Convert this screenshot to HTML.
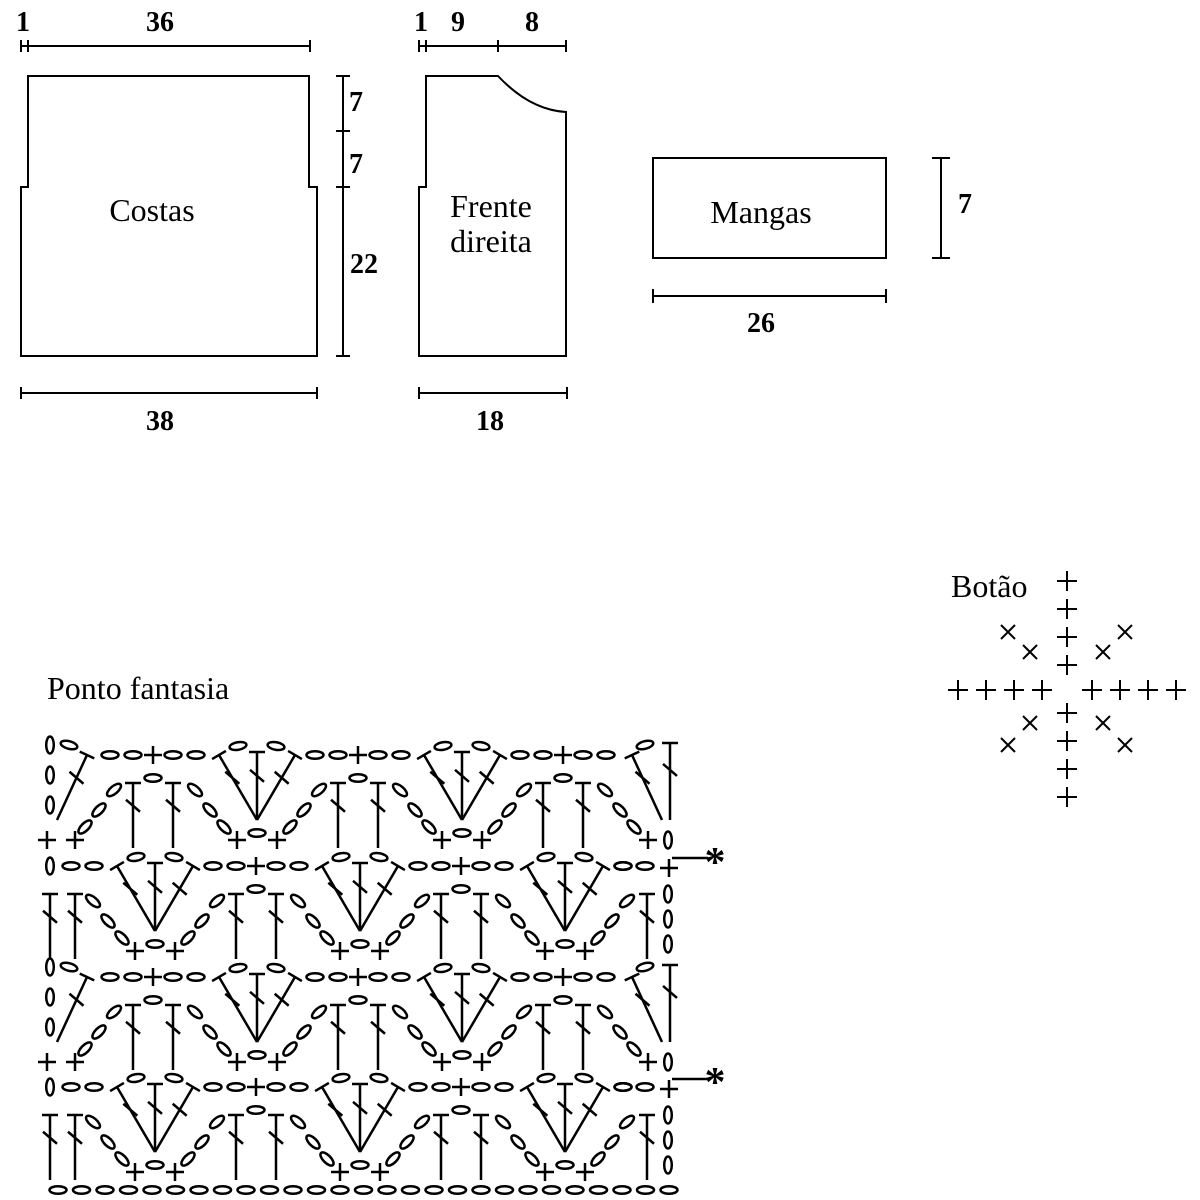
<!DOCTYPE html>
<html><head><meta charset="utf-8"><style>
html,body{margin:0;padding:0;background:#fff;}
svg{display:block;}
text{font-family:"Liberation Serif",serif;fill:#000;}
</style></head><body>
<svg id="s" width="1200" height="1200" viewBox="0 0 1200 1200" xmlns="http://www.w3.org/2000/svg">
<g fill="none" stroke="#000" stroke-width="2">
<polygon points="28,76 309,76 309,187 317,187 317,356 21,356 21,187 28,187"/>
<path d="M21,46H310M21,40V52M28,40V52M310,40V52"/>
<path d="M343,76V356M336,76H350M336,131H350M336,187H350M336,356H350"/>
<path d="M21,393H317M21,387V399M317,387V399"/>
<path d="M426,76H498Q530,110 566,112V356H419V187H426Z"/>
<path d="M419,46H566M419,40V52M426,40V52M498,40V52M566,40V52"/>
<path d="M419,393H567M419,387V399M567,387V399"/>
<rect x="653" y="158" width="233" height="100"/>
<path d="M941,158V258M932,158H950M932,258H950"/>
<path d="M653,296H886M653,289V303M886,289V303"/>
</g>
<g font-size="32" text-anchor="middle">
<text x="152" y="221">Costas</text>
<text x="491" y="217">Frente</text>
<text x="491" y="252">direita</text>
<text x="761" y="223">Mangas</text>
</g>
<g font-size="28" font-weight="bold" text-anchor="middle">
<text x="23" y="31">1</text><text x="160" y="31">36</text>
<text x="356" y="111">7</text><text x="356" y="173">7</text><text x="364" y="273">22</text>
<text x="160" y="430">38</text>
<text x="421" y="31">1</text><text x="458" y="31">9</text><text x="532" y="31">8</text>
<text x="490" y="430">18</text>
<text x="965" y="213">7</text><text x="761" y="332">26</text>
</g>
<text x="47" y="699" font-size="32">Ponto fantasia</text>
<text x="951" y="597" font-size="32">Botão</text>
<g id="chart" fill="none" stroke="#000" stroke-width="2.5"></g>
<g id="btn" fill="none" stroke="#000" stroke-width="2"></g>
<text x="715" y="876" font-size="42" font-weight="bold" text-anchor="middle">*</text>
<text x="715" y="1096" font-size="42" font-weight="bold" text-anchor="middle">*</text>
</svg>
<script>
var g=document.getElementById('chart'),h='';
function ov(x,y,a){h+='<ellipse cx="'+x+'" cy="'+y+'" rx="8.5" ry="3.8" transform="rotate('+(a||0)+' '+x+' '+y+')"/>';}
function sc(x,y){h+='<path d="M'+(x-9)+','+y+'H'+(x+9)+'M'+x+','+(y-9)+'V'+(y+9)+'"/>';}
function dc(x1,y1,x2,y2){var dx=x2-x1,dy=y2-y1,l=Math.sqrt(dx*dx+dy*dy),ux=dx/l,uy=dy/l,px=-uy,py=ux;
h+='<path d="M'+x1+','+y1+'L'+x2+','+y2+'M'+(x1-px*8)+','+(y1-py*8)+'L'+(x1+px*8)+','+(y1+py*8)+'"/>';
var mx=x1+dx*0.35,my=y1+dy*0.35;h+='<path d="M'+(mx-7)+','+(my-6)+'L'+(mx+7)+','+(my+6)+'"/>';}
function band(y0,c0,L,R){
 for(var k=-1;k<5;k++){var c=c0+205*k,a=c-104;
  [[a-43,0],[a-20,0],[a+20,0],[a+43,0]].forEach(function(p){if(p[0]>L+8&&p[0]<R-8)ov(p[0],y0);});
  if(a>L+5&&a<R)sc(a,y0);
  if(c>L+30&&c<R-30){dc(c-38,y0,c,y0+65);dc(c,y0-3,c,y0+65);dc(c+38,y0,c,y0+65);ov(c-19,y0-9,-10);ov(c+19,y0-9,10);}
  if(a>L+20&&a<R-20){dc(a-20,y0+28,a-20,y0+93);dc(a+20,y0+28,a+20,y0+93);ov(a,y0+23);}
  [[a+42,35,40],[a+57,55,45],[a+71,72,45],[c+33,72,-45],[c+47,55,-45],[c+62,35,-40]].forEach(function(p){if(p[0]>L+5&&p[0]<R-5)ov(p[0],y0+p[1],p[2]);});
  if(c>L+20&&c<R-20){sc(c-20,y0+85);ov(c,y0+78);sc(c+20,y0+85);}
 }
}
function bandA(y0){
 band(y0,257,40,640);
 ov(50,y0-10,90);ov(50,y0+20,90);ov(50,y0+50,90);ov(69,y0-10,15);
 dc(87,y0,57,y0+65);sc(47,y0+85);sc(75,y0+85);
 ov(645,y0-10,-15);dc(632,y0,662,y0+65);dc(670,y0-12,670,y0+65);sc(648,y0+85);ov(668,y0+85,90);
}
function bandB(y0){
 band(y0,155,48,640);
 ov(50,y0,90);
 dc(50,y0+28,50,y0+93);dc(75,y0+28,75,y0+93);
 ov(623,y0);ov(645,y0);sc(669,y0+2);h+='<path d="M672,'+(y0-8)+'H708"/>';
 dc(647,y0+28,647,y0+93);ov(668,y0+28,90);ov(668,y0+53,90);ov(668,y0+78,90);
}
bandA(755);bandB(866);bandA(977);bandB(1087);
for(var x=58;x<675;x+=23.5)ov(x,1190);
g.innerHTML=h;
var b='';function pl(x,y){b+='<path d="M'+(x-10)+','+y+'H'+(x+10)+'M'+x+','+(y-10)+'V'+(y+10)+'"/>';}
function xx(x,y){b+='<path d="M'+(x-7)+','+(y-7)+'L'+(x+7)+','+(y+7)+'M'+(x+7)+','+(y-7)+'L'+(x-7)+','+(y+7)+'"/>';}
[581,609,637,665,713,741,769,797].forEach(function(y){pl(1067,y);});
[958,986,1014,1042,1092,1120,1148,1176].forEach(function(x){pl(x,690);});
[[1008,632],[1030,652],[1103,652],[1125,632],[1030,723],[1008,745],[1103,723],[1125,745]].forEach(function(p){xx(p[0],p[1]);});
document.getElementById('btn').innerHTML=b;
</script>
</body></html>
